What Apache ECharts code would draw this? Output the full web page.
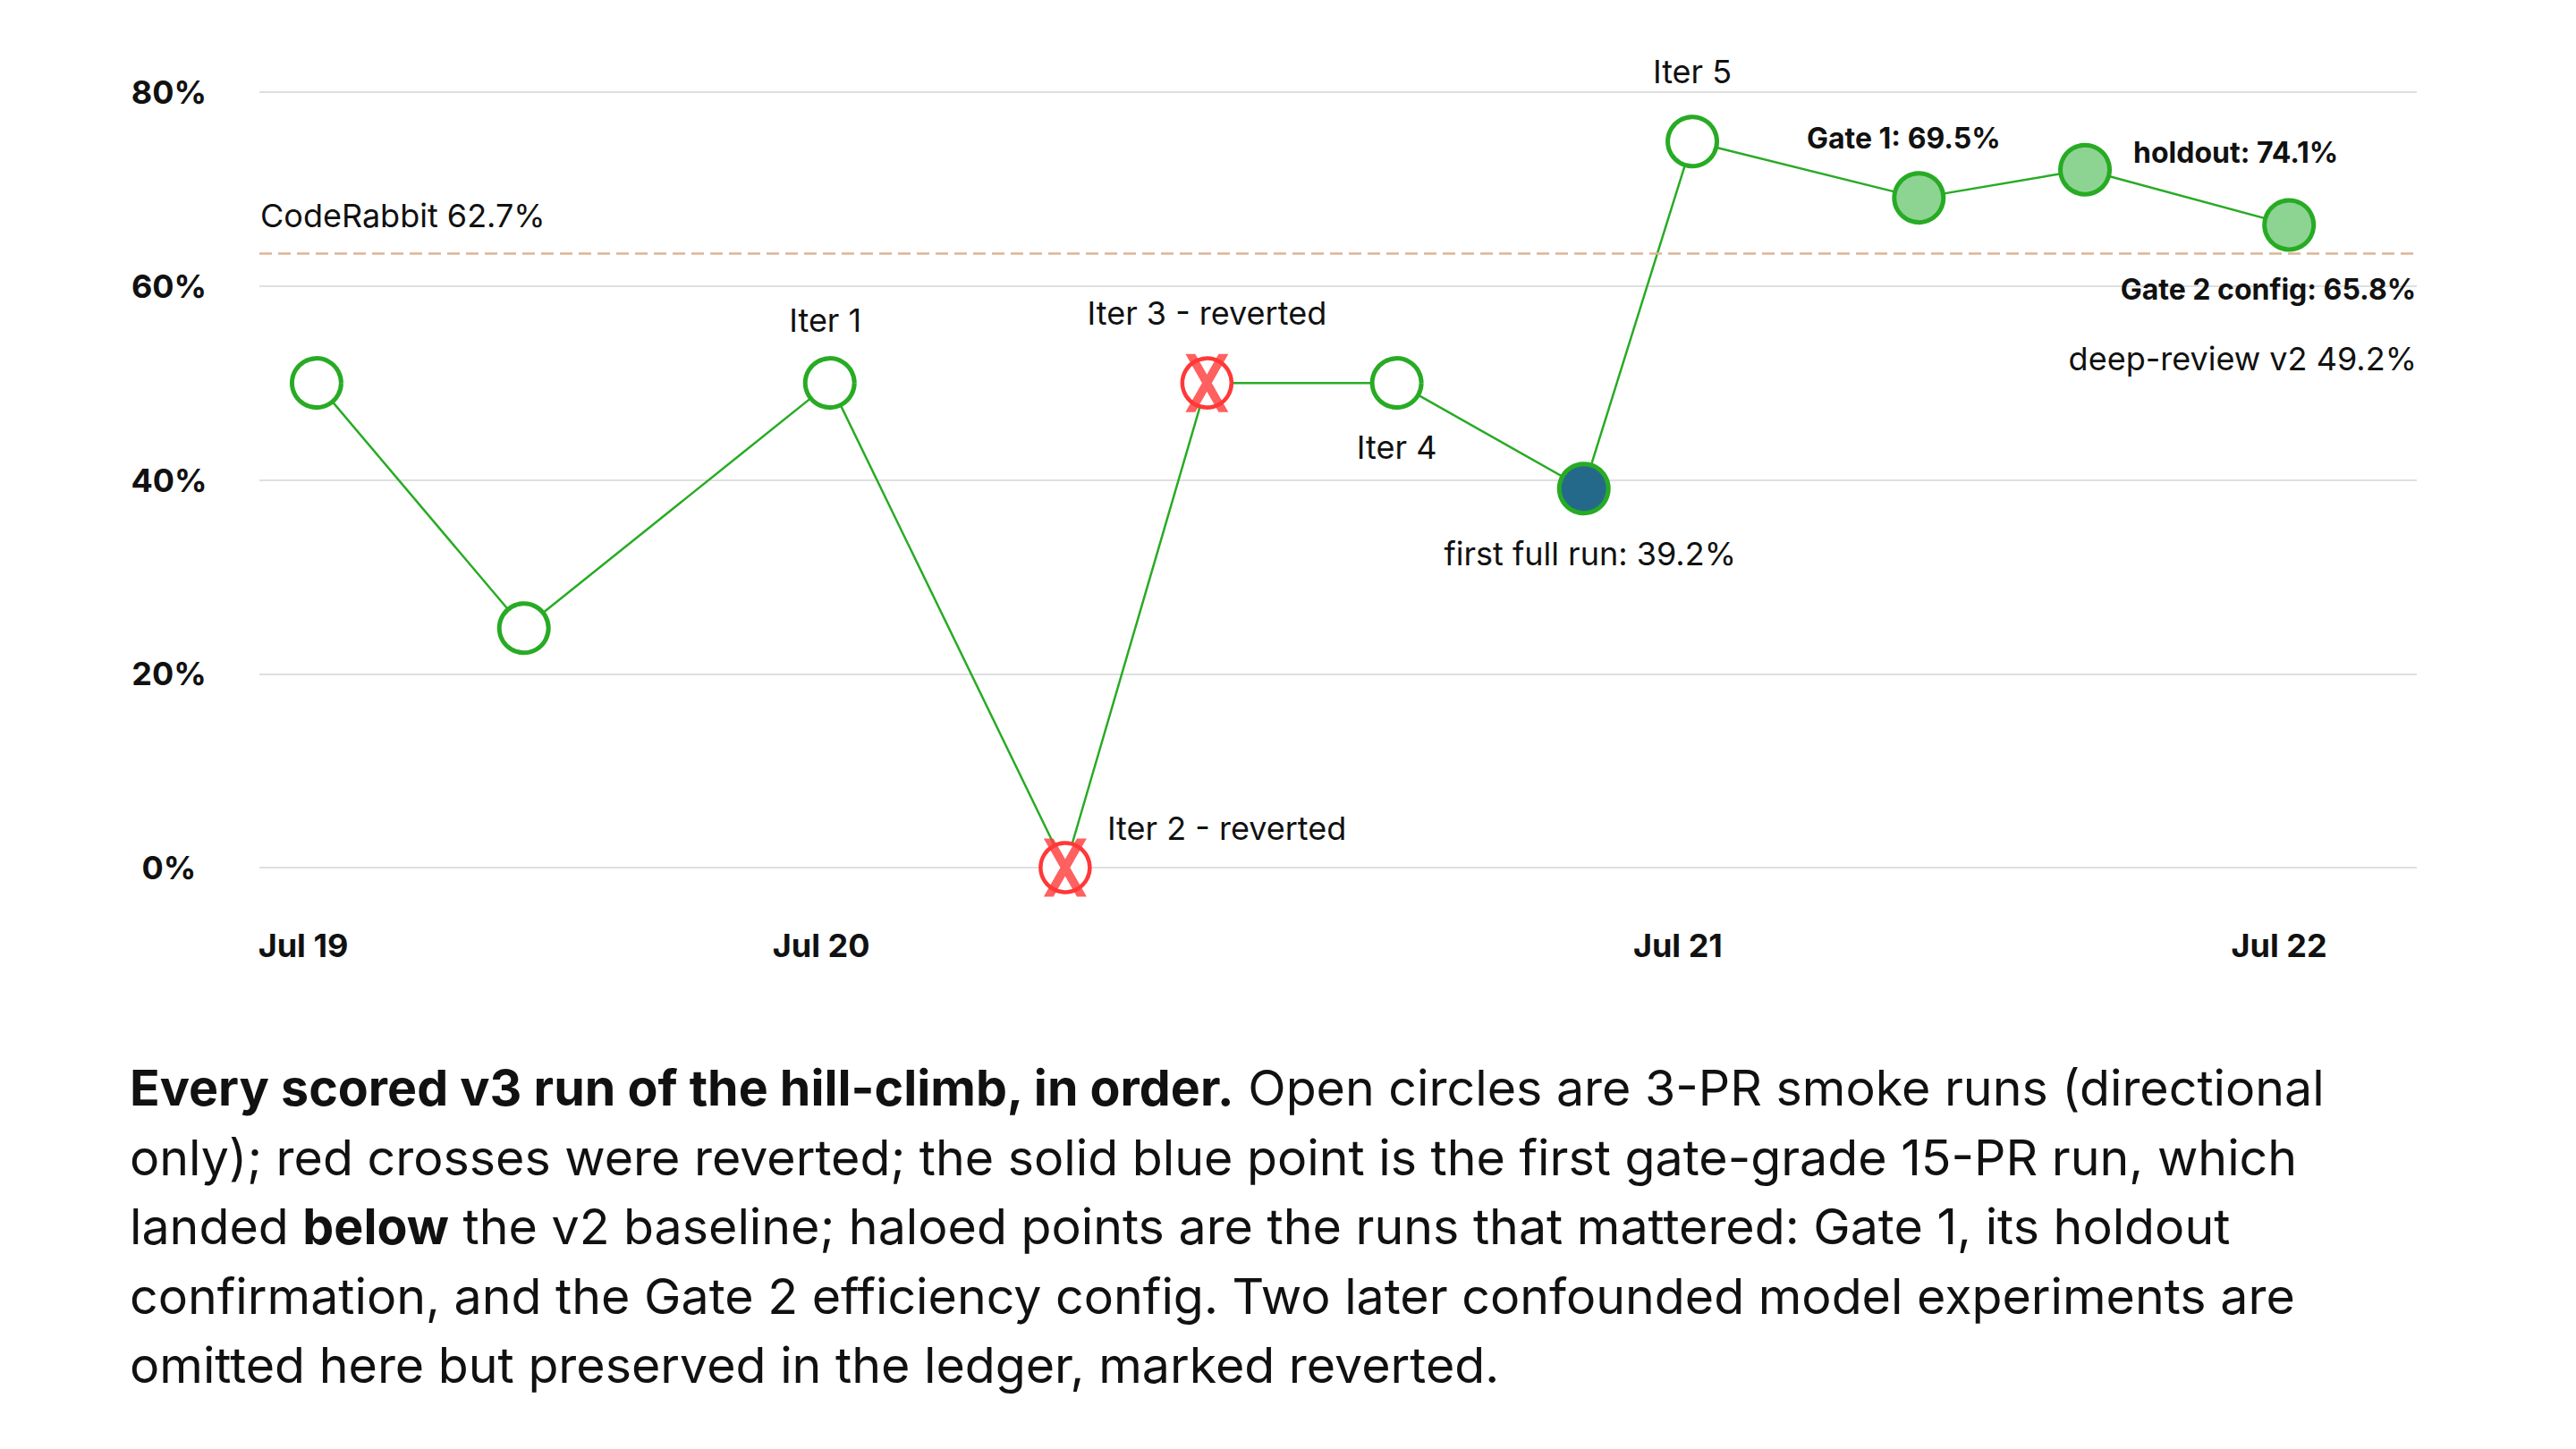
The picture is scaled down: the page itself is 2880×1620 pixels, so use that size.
<!DOCTYPE html>
<html><head><meta charset="utf-8">
<script src="https://cdn.jsdelivr.net/npm/echarts@6/dist/echarts.min.js"></script>
<style>
html,body{margin:0;padding:0;background:#fff;}
#chart{position:absolute;left:0;top:0;width:2880px;height:1620px;}
#caption{position:absolute;left:145px;top:1177px;font-family:Inter,sans-serif;font-size:55.5px;line-height:77.6px;color:#111;white-space:nowrap;}
#caption b{font-weight:700;}
</style></head><body>
<div id="chart"></div>
<div id="caption"><b>Every scored v3 run of the hill-climb, in order.</b> Open circles are 3-PR smoke runs (directional<br>only); red crosses were reverted; the solid blue point is the first gate-grade 15-PR run, which<br>landed <b>below</b> the v2 baseline; haloed points are the runs that mattered: Gate 1, its holdout<br>confirmation, and the Gate 2 efficiency config. Two later confounded model experiments are<br>omitted here but preserved in the ledger, marked reverted.</div>
<script>
// ---- data ----
const runPos = [2.65, 12.26, 26.44, 37.35, 43.92, 52.72, 61.39, 66.42, 76.92, 84.62, 94.08];
const runScore = [50.0, 24.7, 50.0, 0.0, 50.0, 50.0, 39.1, 74.9, 69.1, 72.0, 66.3];
const runKind = ['smoke','smoke','smoke','reverted','reverted','smoke','full','smoke','gate','gate','gate'];
const runNote = ['', '', 'Iter 1', 'Iter 2 - reverted', 'Iter 3 - reverted', 'Iter 4', 'first full run: 39.2%', 'Iter 5', 'Gate 1: 69.5%', 'holdout: 74.1%', 'Gate 2 config: 65.8%'];
const dayTickPos = [2.03, 26.04, 65.75, 93.62];
const dayTickLabels = ['Jul 19', 'Jul 20', 'Jul 21', 'Jul 22'];
const yTickValues = [0, 20, 40, 60, 80];
const refNames = ['CodeRabbit 62.7%', 'deep-review v2 49.2%'];
const refValues = [63.4, 48.9];

// ---- styling ----
const GREEN = '#28ab24';
const FONT = 'Inter, sans-serif';
const kindStyle = {
  smoke:    {color: '#ffffff', borderColor: GREEN, borderWidth: 5},
  reverted: {color: '#ffffff', borderColor: '#ff3838', borderWidth: 4.5},
  full:     {color: '#25698a', borderColor: GREEN, borderWidth: 5},
  gate:     {color: '#8dd493', borderColor: GREEN, borderWidth: 5}
};
const notePlacement = {
  2: {offset: [-5, -70]},
  3: {offset: [47, -44], align: 'left'},
  4: {offset: [0, -78]},
  5: {offset: [0, 72]},
  6: {offset: [7, 73]},
  7: {offset: [0, -78]},
  8: {offset: [-17, -67], bold: true},
  9: {offset: [54, -19], align: 'left', bold: true},
  10: {offset: [142, 72], align: 'right', bold: true}
};

const lineData = runPos.map((x, i) => {
  const p = notePlacement[i];
  const item = {
    value: [x, runScore[i]],
    symbol: 'circle',
    symbolSize: 55,
    itemStyle: kindStyle[runKind[i]]
  };
  if (runNote[i] && p) {
    item.label = {
      show: true,
      formatter: runNote[i],
      position: 'inside',
      align: p.align || 'center',
      verticalAlign: 'middle',
      offset: p.offset,
      color: '#111',
      fontFamily: FONT,
      fontSize: p.bold ? 32 : 36,
      fontWeight: p.bold ? 700 : 400
    };
  }
  return item;
});
const crossData = runPos.map((x, i) => [x, runScore[i]]).filter((d, i) => runKind[i] === 'reverted');

const chart = echarts.init(document.getElementById('chart'), null, {renderer: 'svg'});
chart.setOption({
  animation: false,
  backgroundColor: '#ffffff',
  grid: {left: 290, right: 178, top: 103, bottom: 650, containLabel: false},
  xAxis: {
    type: 'value', min: 0, max: 100,
    axisLine: {show: false}, axisTick: {show: false}, splitLine: {show: false},
    axisLabel: {
      customValues: dayTickPos,
      formatter: v => dayTickLabels[dayTickPos.indexOf(v)] || '',
      color: '#111', fontFamily: FONT, fontSize: 36, fontWeight: 700, margin: 69
    }
  },
  yAxis: {
    type: 'value', min: yTickValues[0], max: yTickValues[yTickValues.length - 1], interval: 20,
    axisLine: {show: false}, axisTick: {show: false},
    splitLine: {lineStyle: {color: '#dfdfdf', width: 2}},
    axisLabel: {
      formatter: '{value}%', align: 'center', margin: 101,
      color: '#111', fontFamily: FONT, fontSize: 36, fontWeight: 700
    }
  },
  series: [
    {
      type: 'line',
      data: lineData,
      showAllSymbol: true,
      lineStyle: {color: GREEN, width: 2.5},
      emphasis: {disabled: true},
      z: 3,
      markLine: {
        silent: true,
        symbol: 'none',
        data: [
          {
            yAxis: refValues[0],
            lineStyle: {color: '#dcb597', width: 2.5, type: [14, 7]},
            label: {
              show: true, formatter: refNames[0], position: 'insideStartTop', distance: [1, 24],
              color: '#111', fontFamily: FONT, fontSize: 36, fontWeight: 400
            }
          },
          {
            yAxis: refValues[1],
            lineStyle: {color: 'rgba(255,255,255,0)', width: 1, type: 'solid'},
            label: {
              show: true, formatter: refNames[1], position: 'insideEndTop', distance: [0, 21],
              color: '#111', fontFamily: FONT, fontSize: 36, fontWeight: 400
            }
          }
        ]
      }
    },
    {
      type: 'scatter',
      data: crossData,
      symbol: 'path://M2,0 L12,0 L46,65 L36,65 Z M36,0 L46,0 L12,65 L2,65 Z',
      symbolSize: [48, 65],
      itemStyle: {color: '#ff3838'},
      emphasis: {disabled: true},
      z: 5
    }
  ]
});
</script>
</body></html>
